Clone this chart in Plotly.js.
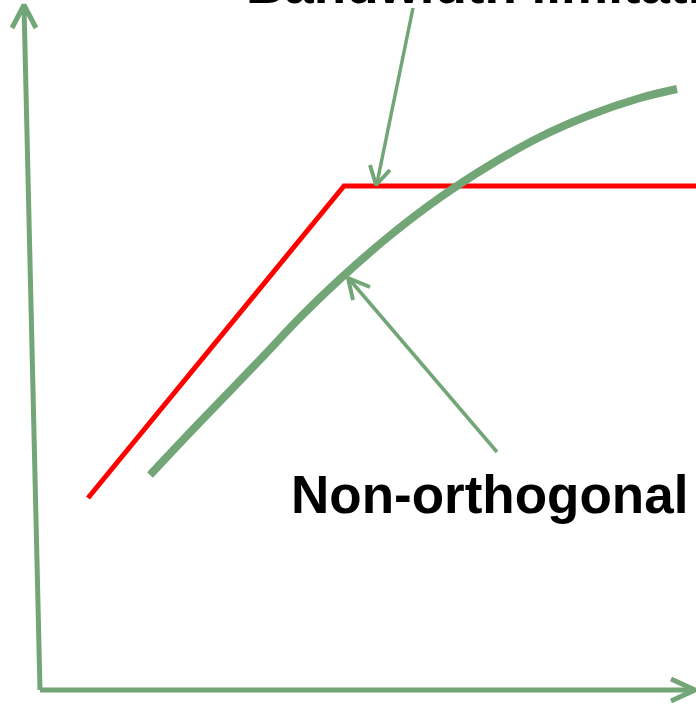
<!DOCTYPE html>
<html>
<head>
<meta charset="utf-8">
<script src="https://cdn.plot.ly/plotly-3.0.1.min.js"></script>
<style>html,body{margin:0;padding:0;background:#fff;}#chart{width:696px;height:705px;}</style>
</head>
<body>
<div id="chart"></div>
<script>
// Chart units: x to the right, y downward (0..705)
const GREEN = '#72a676';
const RED = '#ff0000';

// Ideal (bandwidth-limited) curve: linear rise then flat
const idealX = [88, 344, 696];
const idealY = [498, 186, 186];

// Non-orthogonal (real) curve
const realX = [150, 190, 230, 265, 300, 340, 390, 440, 490, 540, 590, 640, 677];
const realY = [475, 432.5, 391, 354.5, 317.5, 279, 235.5, 197.5, 165, 137, 115, 98, 89];

// Axis arrows
const yAxisX = [40, 24];
const yAxisY = [690, 5];
const yHeadX = [12, 24, 36];
const yHeadY = [28, 5, 28];
const xAxisX = [40, 695];
const xAxisY = [690, 690];
const xHeadX = [671, 695, 671];
const xHeadY = [679, 690, 701];

// Annotation pointer arrows
const bwArrowX = [413, 377];
const bwArrowY = [8, 183];
const bwHeadX = [370, 376, 390];
const bwHeadY = [165, 185, 170];
const noArrowX = [497, 350];
const noArrowY = [452, 280];
const noHeadX = [353, 348, 370];
const noHeadY = [300, 278, 287];

// Labels
const labelTexts = ['Bandwidth limitation', 'Non-orthogonal'];
const labelX = [244, 289];
const labelPaperY = [1.0225, 0.298];

function seg(x, y, color, width) {
  return {x: x, y: y, type: 'scatter', mode: 'lines', hoverinfo: 'skip',
          line: {color: color, width: width}, showlegend: false};
}

const traces = [
  seg(yAxisX, yAxisY, GREEN, 5),
  seg(yHeadX, yHeadY, GREEN, 5),
  seg(xAxisX, xAxisY, GREEN, 5),
  seg(xHeadX, xHeadY, GREEN, 5),
  seg(idealX, idealY, RED, 5),
  Object.assign(seg(realX, realY, GREEN, 8), {line: {color: GREEN, width: 8, shape: 'spline', smoothing: 1}}),
  seg(bwArrowX, bwArrowY, GREEN, 3.5),
  seg(bwHeadX, bwHeadY, GREEN, 4),
  seg(noArrowX, noArrowY, GREEN, 3.5),
  seg(noHeadX, noHeadY, GREEN, 4)
];

const annotations = labelTexts.map((t, i) => ({
  text: '<b>' + t + '</b>', x: labelX[i], y: labelPaperY[i], xref: 'x', yref: 'paper',
  xanchor: 'left', yanchor: 'middle', showarrow: false,
  font: {family: 'Liberation Sans, Arial, sans-serif', size: 53, color: '#000'}
}));

const layout = {
  width: 696, height: 705,
  margin: {l: 0, r: 0, t: 0, b: 0, pad: 0},
  paper_bgcolor: '#fff', plot_bgcolor: '#fff',
  xaxis: {range: [0, 696], visible: false, fixedrange: true},
  yaxis: {range: [705, 0], visible: false, fixedrange: true},
  annotations: annotations,
  showlegend: false
};

Plotly.newPlot('chart', traces, layout, {displayModeBar: false, staticPlot: true});
</script>
</body>
</html>
